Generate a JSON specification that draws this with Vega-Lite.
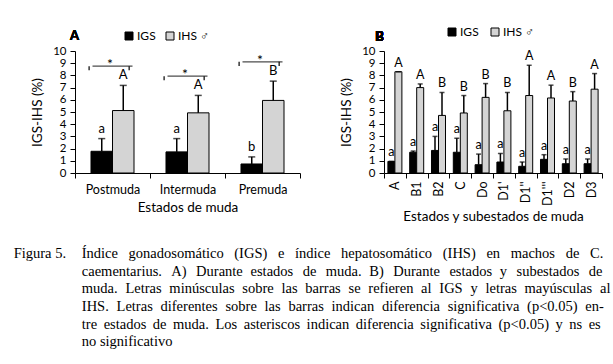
{
  "$schema": "https://vega.github.io/schema/vega-lite/v6.json",
  "background": "white",
  "padding": {"left": 13, "top": 26, "right": 5, "bottom": 2},
  "config": {
    "font": "Lato",
    "view": {"stroke": null},
    "axis": {"domainColor": "black", "tickColor": "black", "labelColor": "black", "titleColor": "black", "grid": false, "tickSize": 5, "labelFont": "Lato", "titleFont": "Lato", "titleFontWeight": "normal", "labelFontSize": 12.5, "titleFontSize": 13.5, "labelOverlap": false},
    "axisY": {"tickCount": 12, "labelOverlap": false, "labelFontSize": 11.5},
    "text": {"font": "Lato", "color": "black"}
  },
  "title": {
    "text": [
      "Figura 5.\u2003\u200aÍndice \u2009\u2009\u200agonadosomático \u2009\u2009\u200a(IGS) \u2009\u2009\u200ae \u2009\u2009\u200aíndice \u2009\u2009\u200ahepatosomático \u2009\u2009\u200a(IHS) \u2009\u2009\u200aen \u2009\u2009\u200amachos \u2009\u2009\u200ade \u2009\u2009\u200aC.",
      "\u200b\u2003\u2003\u2003\u2003\u2002\u2009caementarius. \u2009\u2009A) \u2009\u2009Durante \u2009\u200aestados \u2009\u2009de \u2009\u2009muda. \u2009\u200aB) \u2009\u2009Durante \u2009\u2009estados \u2009\u200ay \u2009\u2009subestados \u2009\u2009de",
      "\u200b\u2003\u2003\u2003\u2003\u2002\u2009muda. \u2009\u200aLetras \u2009\u200aminúsculas \u2009\u200asobre \u2009\u200alas \u2009\u200abarras \u2009\u200ase \u2009\u200arefieren \u2009\u200aal \u2009\u200aIGS \u2009\u200ay \u2009\u200aletras \u2009\u200amayúsculas \u2009\u200aal",
      "\u200b\u2003\u2003\u2003\u2003\u2002\u2009IHS. \u2009\u200aLetras \u2009\u200adiferentes \u2009\u200asobre \u2009\u200alas \u2009\u200abarras \u2009\u200aindican \u2009\u200adiferencia \u2009\u200asignificativa \u2009\u200a(p<0.05) \u2009\u200aen-",
      "\u200b\u2003\u2003\u2003\u2003\u2002\u2009tre \u2009estados \u2009de \u2009muda. \u2009Los \u2009asteriscos \u2009indican \u2009diferencia \u2009significativa \u2009(p<0.05) \u2009y \u2009ns \u2009es",
      "\u200b\u2003\u2003\u2003\u2003\u2002\u2009no significativo"
    ],
    "orient": "bottom", "anchor": "start", "frame": "bounds",
    "font": "Liberation Serif", "fontSize": 14.5, "fontWeight": "normal",
    "lineHeight": 17.7, "offset": 24, "dx": -17, "color": "black", "baseline": "top"
  },
  "bounds": "flush",
  "spacing": 84,
  "resolve": {"scale": {"fill": "independent", "xOffset": "independent"}, "legend": {"fill": "independent"}},
  "hconcat": [
    {
      "width": 225, "height": 122,
      "data": {"values": [
        {"Estado": "Postmuda", "Indice": "IGS", "valor": 1.78, "sup": 2.82, "letra": "a"},
        {"Estado": "Postmuda", "Indice": "IHS", "valor": 5.12, "sup": 7.18, "letra": "A"},
        {"Estado": "Intermuda", "Indice": "IGS", "valor": 1.73, "sup": 2.82, "letra": "a"},
        {"Estado": "Intermuda", "Indice": "IHS", "valor": 4.93, "sup": 6.36, "letra": "A"},
        {"Estado": "Premuda", "Indice": "IGS", "valor": 0.74, "sup": 1.32, "letra": "b"},
        {"Estado": "Premuda", "Indice": "IHS", "valor": 5.95, "sup": 7.53, "letra": "B"}
      ]},
      "layer": [
        {
          "mark": {"type": "bar", "stroke": "black", "strokeWidth": 1},
          "encoding": {
            "x": {"field": "Estado", "type": "nominal", "sort": ["Postmuda", "Intermuda", "Premuda"], "title": "Estados de muda",
                  "scale": {"paddingInner": 0, "paddingOuter": 0},
                  "axis": {"labelAngle": 0, "tickBand": "extent", "labelPadding": 5, "titlePadding": 5}},
            "xOffset": {"field": "Indice", "type": "nominal", "scale": {"domain": ["IGS", "IHS"], "paddingInner": 0, "paddingOuter": 0.744}},
            "y": {"field": "valor", "type": "quantitative", "title": "IGS-IHS (%)", "scale": {"domain": [0, 10], "nice": false},
                  "axis": {"tickCount": 12, "values": [0, 1, 2, 3, 4, 5, 6, 7, 8, 9, 10], "labelOverlap": false, "labelFontSize": 11.5, "labelPadding": 4, "titlePadding": 8}},
            "fill": {"field": "Indice", "type": "nominal", "scale": {"domain": ["IGS", "IHS"], "range": ["#000000", "#d4d4d4"]},
                     "legend": {"orient": "none", "legendX": 48, "legendY": -21, "direction": "horizontal", "title": null, "symbolType": "square", "symbolSize": 64, "symbolStrokeColor": "black", "symbolStrokeWidth": 1, "labelFontSize": 12, "labelFont": "Lato", "labelColor": "black", "labelOffset": 2, "columnPadding": 8, "padding": 0, "labelExpr": "datum.label == 'IHS' ? 'IHS ♂' : datum.label"}}
          }
        },
        {
          "mark": {"type": "rule", "strokeWidth": 1.5, "color": "black"},
          "encoding": {
            "x": {"field": "Estado", "type": "nominal", "sort": ["Postmuda", "Intermuda", "Premuda"], "title": "Estados de muda"},
            "xOffset": {"field": "Indice", "type": "nominal"},
            "y": {"field": "valor", "type": "quantitative", "title": "IGS-IHS (%)"},
            "y2": {"field": "sup"}
          }
        },
        {
          "mark": {"type": "tick", "orient": "horizontal", "size": 7, "thickness": 1.5, "color": "black"},
          "encoding": {
            "x": {"field": "Estado", "type": "nominal", "sort": ["Postmuda", "Intermuda", "Premuda"], "title": "Estados de muda"},
            "xOffset": {"field": "Indice", "type": "nominal"},
            "y": {"field": "sup", "type": "quantitative", "title": "IGS-IHS (%)"}
          }
        },
        {
          "mark": {"type": "text", "baseline": "bottom", "dy": -3, "fontSize": 13},
          "encoding": {
            "x": {"field": "Estado", "type": "nominal", "sort": ["Postmuda", "Intermuda", "Premuda"], "title": "Estados de muda"},
            "xOffset": {"field": "Indice", "type": "nominal"},
            "y": {"field": "sup", "type": "quantitative", "title": "IGS-IHS (%)"},
            "text": {"field": "letra"}
          }
        },
        {
          "mark": {"type": "text", "text": "A", "fontSize": 13, "fontWeight": "bold", "align": "left", "baseline": "alphabetic"},
          "encoding": {
            "x": {"datum": "Postmuda", "type": "nominal", "bandPosition": -0.067},
            "y": {"datum": 10.9, "type": "quantitative"}
          }
        },
        {
          "transform": [
            {"aggregate": [{"op": "max", "field": "sup", "as": "m"}], "groupby": ["Estado"]},
            {"calculate": "datum.m + 1.58", "as": "by"},
            {"calculate": "datum.by - 0.33", "as": "bt"}
          ],
          "layer": [
            {
              "mark": {"type": "tick", "orient": "horizontal", "size": 40, "thickness": 1.2, "color": "black"},
              "encoding": {
                "x": {"field": "Estado", "type": "nominal", "sort": ["Postmuda", "Intermuda", "Premuda"], "title": "Estados de muda", "bandPosition": 0.455},
                "y": {"field": "by", "type": "quantitative", "title": "IGS-IHS (%)"}
              }
            },
            {
              "mark": {"type": "rule", "strokeWidth": 1.2, "color": "black"},
              "encoding": {
                "x": {"field": "Estado", "type": "nominal", "sort": ["Postmuda", "Intermuda", "Premuda"], "title": "Estados de muda", "bandPosition": 0.188},
                "y": {"field": "by", "type": "quantitative", "title": "IGS-IHS (%)"},
                "y2": {"field": "bt"}
              }
            },
            {
              "mark": {"type": "rule", "strokeWidth": 1.2, "color": "black"},
              "encoding": {
                "x": {"field": "Estado", "type": "nominal", "sort": ["Postmuda", "Intermuda", "Premuda"], "title": "Estados de muda", "bandPosition": 0.722},
                "y": {"field": "by", "type": "quantitative", "title": "IGS-IHS (%)"},
                "y2": {"field": "bt"}
              }
            },
            {
              "mark": {"type": "text", "text": "*", "fontSize": 14, "baseline": "alphabetic", "dy": 3},
              "encoding": {
                "x": {"field": "Estado", "type": "nominal", "sort": ["Postmuda", "Intermuda", "Premuda"], "title": "Estados de muda", "bandPosition": 0.465},
                "y": {"field": "by", "type": "quantitative", "title": "IGS-IHS (%)"}
              }
            }
          ]
        }
      ]
    },
    {
      "width": 218, "height": 122,
      "data": {"values": [
        {"Estado": "A", "Indice": "IGS", "valor": 0.95, "sup": 0.95, "letra": "a"},
        {"Estado": "A", "Indice": "IHS", "valor": 8.3, "sup": 8.3, "letra": "A"},
        {"Estado": "B1", "Indice": "IGS", "valor": 1.7, "sup": 1.8, "letra": "a"},
        {"Estado": "B1", "Indice": "IHS", "valor": 7.0, "sup": 7.3, "letra": "A"},
        {"Estado": "B2", "Indice": "IGS", "valor": 1.85, "sup": 3.0, "letra": "a"},
        {"Estado": "B2", "Indice": "IHS", "valor": 4.72, "sup": 6.6, "letra": "B"},
        {"Estado": "C", "Indice": "IGS", "valor": 1.7, "sup": 2.85, "letra": "a"},
        {"Estado": "C", "Indice": "IHS", "valor": 4.92, "sup": 6.35, "letra": "B"},
        {"Estado": "Do", "Indice": "IGS", "valor": 0.68, "sup": 1.55, "letra": "a"},
        {"Estado": "Do", "Indice": "IHS", "valor": 6.2, "sup": 7.33, "letra": "B"},
        {"Estado": "D1'", "Indice": "IGS", "valor": 0.9, "sup": 1.6, "letra": "a"},
        {"Estado": "D1'", "Indice": "IHS", "valor": 5.1, "sup": 6.6, "letra": "B"},
        {"Estado": "D1''", "Indice": "IGS", "valor": 0.55, "sup": 0.9, "letra": "a"},
        {"Estado": "D1''", "Indice": "IHS", "valor": 6.35, "sup": 8.83, "letra": "A"},
        {"Estado": "D1'''", "Indice": "IGS", "valor": 1.12, "sup": 1.5, "letra": "a"},
        {"Estado": "D1'''", "Indice": "IHS", "valor": 6.15, "sup": 7.2, "letra": "A"},
        {"Estado": "D2", "Indice": "IGS", "valor": 0.76, "sup": 1.15, "letra": "a"},
        {"Estado": "D2", "Indice": "IHS", "valor": 5.9, "sup": 6.67, "letra": "B"},
        {"Estado": "D3", "Indice": "IGS", "valor": 0.76, "sup": 1.15, "letra": "a"},
        {"Estado": "D3", "Indice": "IHS", "valor": 6.87, "sup": 8.15, "letra": "A"}
      ]},
      "layer": [
        {
          "mark": {"type": "bar", "stroke": "black", "strokeWidth": 1},
          "encoding": {
            "x": {"field": "Estado", "type": "nominal", "sort": ["A", "B1", "B2", "C", "Do", "D1'", "D1''", "D1'''", "D2", "D3"], "title": "Estados y subestados de muda",
                  "scale": {"paddingInner": 0, "paddingOuter": 0},
                  "axis": {"labelAngle": -90, "tickBand": "extent", "labelPadding": 3, "titlePadding": 4}},
            "xOffset": {"field": "Indice", "type": "nominal", "scale": {"domain": ["IGS", "IHS"], "paddingInner": 0, "paddingOuter": 0.557}},
            "y": {"field": "valor", "type": "quantitative", "title": "IGS-IHS (%)", "scale": {"domain": [0, 10], "nice": false},
                  "axis": {"tickCount": 12, "values": [0, 1, 2, 3, 4, 5, 6, 7, 8, 9, 10], "labelOverlap": false, "labelFontSize": 11.5, "labelPadding": 4, "titlePadding": 8}},
            "fill": {"field": "Indice", "type": "nominal", "scale": {"domain": ["IGS", "IHS"], "range": ["#000000", "#d4d4d4"]},
                     "legend": {"orient": "none", "legendX": 62, "legendY": -25, "direction": "horizontal", "title": null, "symbolType": "square", "symbolSize": 64, "symbolStrokeColor": "black", "symbolStrokeWidth": 1, "labelFontSize": 12, "labelFont": "Lato", "labelColor": "black", "labelOffset": 2, "columnPadding": 10, "padding": 0, "labelExpr": "datum.label == 'IHS' ? 'IHS ♂' : datum.label"}}
          }
        },
        {
          "mark": {"type": "rule", "strokeWidth": 1.5, "color": "black"},
          "encoding": {
            "x": {"field": "Estado", "type": "nominal", "sort": ["A", "B1", "B2", "C", "Do", "D1'", "D1''", "D1'''", "D2", "D3"], "title": "Estados y subestados de muda"},
            "xOffset": {"field": "Indice", "type": "nominal"},
            "y": {"field": "valor", "type": "quantitative", "title": "IGS-IHS (%)"},
            "y2": {"field": "sup"}
          }
        },
        {
          "mark": {"type": "tick", "orient": "horizontal", "size": 5, "thickness": 1.5, "color": "black"},
          "encoding": {
            "x": {"field": "Estado", "type": "nominal", "sort": ["A", "B1", "B2", "C", "Do", "D1'", "D1''", "D1'''", "D2", "D3"], "title": "Estados y subestados de muda"},
            "xOffset": {"field": "Indice", "type": "nominal"},
            "y": {"field": "sup", "type": "quantitative", "title": "IGS-IHS (%)"}
          }
        },
        {
          "mark": {"type": "text", "baseline": "bottom", "dy": -2, "fontSize": 12.5},
          "encoding": {
            "x": {"field": "Estado", "type": "nominal", "sort": ["A", "B1", "B2", "C", "Do", "D1'", "D1''", "D1'''", "D2", "D3"], "title": "Estados y subestados de muda"},
            "xOffset": {"field": "Indice", "type": "nominal"},
            "y": {"field": "sup", "type": "quantitative", "title": "IGS-IHS (%)"},
            "text": {"field": "letra"}
          }
        },
        {
          "mark": {"type": "text", "text": "B", "fontSize": 13, "fontWeight": "bold", "align": "left", "baseline": "alphabetic"},
          "encoding": {
            "x": {"datum": "A", "type": "nominal", "bandPosition": -0.4},
            "y": {"datum": 10.8, "type": "quantitative"}
          }
        }
      ]
    }
  ]
}
